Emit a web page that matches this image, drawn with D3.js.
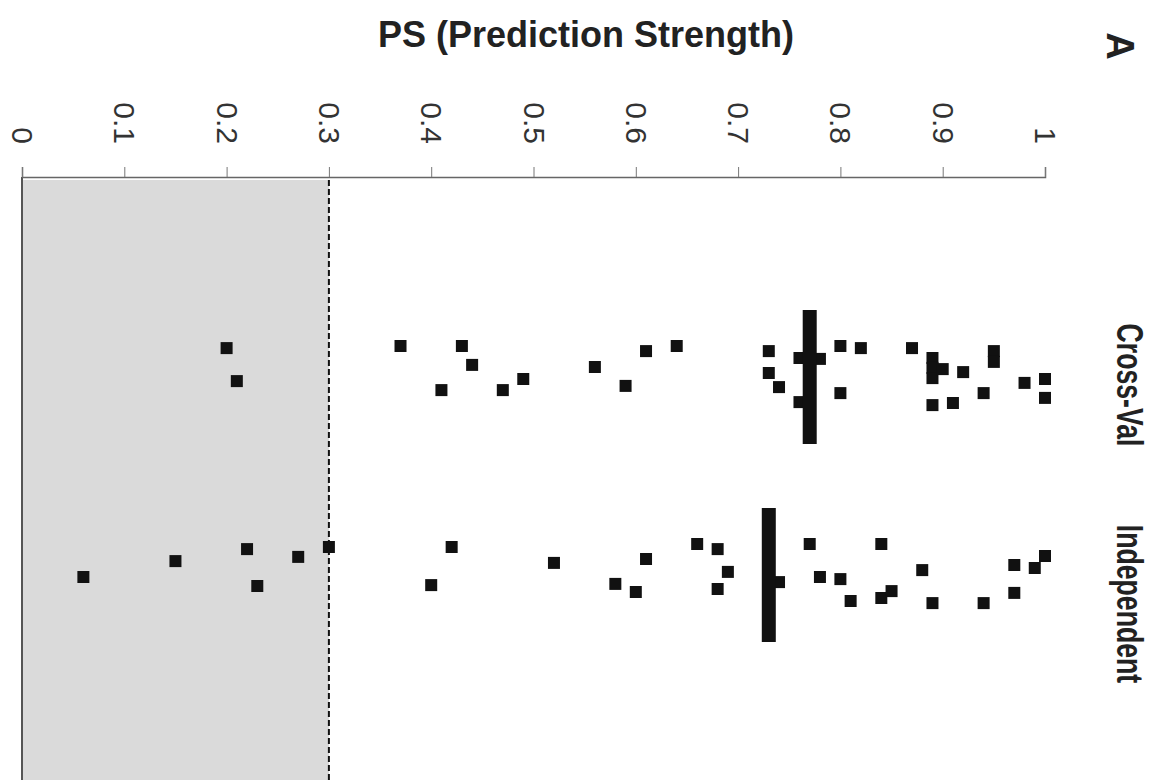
<!DOCTYPE html>
<html>
<head>
<meta charset="utf-8">
<script src="https://cdn.jsdelivr.net/npm/d3@7"></script>
<style>
  body { margin: 0; background: #fff; }
  text { font-family: "Liberation Sans", Arial, sans-serif; }
</style>
</head>
<body>
<script>
// groups shown on the (rotated) category axis
var categories = ['Cross-Val', 'Independent']

// prediction strength of each sample
var crossValPS = [0.20, 0.21, 0.37, 0.43, 0.44, 0.41, 0.47, 0.49, 0.56, 0.59, 0.61, 0.64,
                  0.73, 0.73, 0.74, 0.76, 0.78, 0.76, 0.80, 0.82, 0.80, 0.87, 0.89, 0.89,
                  0.89, 0.90, 0.92, 0.95, 0.95, 0.89, 0.91, 0.94, 0.98, 1.00, 1.00]
// scatter of each dot across its column (-1 .. 1)
var crossValJitter = [-0.93, 0.17, -1.0, -1.0, -0.37, 0.47, 0.47, 0.1, -0.3, 0.33, -0.83, -1.0,
                      -0.83, -0.1, 0.37, -0.6, -0.57, 0.87, -1.0, -0.93, 0.57, -0.93, -0.6, -0.27,
                      0.07, -0.23, -0.13, -0.83, -0.47, 0.97, 0.9, 0.57, 0.23, 0.1, 0.73]

var independentPS = [0.06, 0.15, 0.22, 0.23, 0.27, 0.30, 0.40, 0.42, 0.52, 0.58, 0.60, 0.61,
                     0.66, 0.68, 0.69, 0.68, 0.73, 0.73, 0.74, 0.77, 0.78, 0.80, 0.81, 0.84,
                     0.84, 0.85, 0.88, 0.89, 0.94, 0.97, 0.97, 0.99, 1.00]
var independentJitter = [0.1, -0.43, -0.83, 0.4, -0.57, -0.9, 0.37, -0.9, -0.37, 0.33, 0.6, -0.5,
                         -1.0, -0.83, -0.07, 0.5, -0.9, -0.13, 0.27, -1.0, 0.1, 0.17, 0.9, -1.0,
                         0.8, 0.57, -0.13, 0.97, 0.97, -0.3, 0.63, -0.2, -0.6]

var groupMeans = [0.77, 0.73]
var threshold = 0.3
var tickValues = [0, 0.1, 0.2, 0.3, 0.4, 0.5, 0.6, 0.7, 0.8, 0.9, 1]

var width = 1163, height = 780
var axisY = 177

var svg = d3.select('body')
    .append('svg')
    .attr('width', width)
    .attr('height', height)

var x = d3.scaleLinear()
    .domain([0, 1])
    .range([22, 1045])

var y = d3.scalePoint()
    .domain(categories)
    .range([376, 574])

// category labels sit a little lower than the dot columns
var yLabel = d3.scalePoint()
    .domain(categories)
    .range([385, 604])

var jitter = d3.scaleLinear()
    .domain([-1, 1])
    .range([-30, 30])

// grey zone below the threshold
svg.append('rect')
    .attr('x', x(0))
    .attr('y', axisY + 3)
    .attr('width', x(threshold) - x(0))
    .attr('height', height - axisY - 3)
    .attr('fill', '#dadada')

svg.append('line')
    .attr('x1', x(threshold)).attr('x2', x(threshold))
    .attr('y1', axisY + 3).attr('y2', height)
    .attr('stroke', '#111')
    .attr('stroke-width', 2)
    .attr('stroke-dasharray', '6,3')

svg.append('line')
    .attr('x1', x(0)).attr('x2', x(0))
    .attr('y1', axisY).attr('y2', height)
    .attr('stroke', '#555')
    .attr('stroke-width', 2)

var axis = svg.append('g')
    .attr('transform', 'translate(0,' + axisY + ')')
    .call(d3.axisTop(x)
        .tickValues(tickValues)
        .tickSize(10)
        .tickSizeOuter(10)
        .tickFormat(function (d) { return String(d) }))

axis.select('.domain').attr('stroke', '#666').attr('stroke-width', 1.5)
axis.selectAll('.tick line').attr('stroke', '#777')
axis.selectAll('.tick text')
    .attr('transform', 'rotate(90)')
    .attr('x', -33)
    .attr('y', 0)
    .attr('dy', '0.35em')
    .attr('text-anchor', 'end')
    .attr('fill', '#333')
    .style('font-size', '30px')

var groups = [
    { name: categories[0], ps: crossValPS, jit: crossValJitter, mean: groupMeans[0] },
    { name: categories[1], ps: independentPS, jit: independentJitter, mean: groupMeans[1] }
]

var size = 12

groups.forEach(function (g) {
    var pts = g.ps.map(function (v, i) { return { v: v, j: g.jit[i] } })

    svg.append('g')
        .selectAll('rect')
        .data(pts)
        .enter().append('rect')
        .attr('x', function (d) { return x(d.v) - size / 2 })
        .attr('y', function (d) { return y(g.name) + jitter(d.j) - size / 2 })
        .attr('width', size)
        .attr('height', size)
        .attr('fill', '#111')

    // mean bar
    svg.append('rect')
        .attr('x', x(g.mean) - 7)
        .attr('y', y(g.name) - 66)
        .attr('width', 14)
        .attr('height', 134)
        .attr('fill', '#111')

    var lbl = svg.append('text')
        .attr('transform', 'translate(1130,' + yLabel(g.name) + ') rotate(90)')
        .attr('text-anchor', 'middle')
        .attr('dy', '0.35em')
        .attr('font-size', 36)
        .attr('font-weight', 'bold')
        .attr('fill', '#222')
        .text(g.name)
    // the original face is narrower than Liberation Sans
    var len = lbl.node().getComputedTextLength()
    lbl.attr('textLength', len * 0.74).attr('lengthAdjust', 'spacingAndGlyphs')
})

svg.append('text')
    .attr('x', 586)
    .attr('y', 47)
    .attr('text-anchor', 'middle')
    .attr('font-size', 36)
    .attr('font-weight', 'bold')
    .attr('fill', '#222')
    .text('PS (Prediction Strength)')

svg.append('text')
    .attr('transform', 'translate(1120,46) rotate(90)')
    .attr('text-anchor', 'middle')
    .attr('dy', '0.35em')
    .attr('font-size', 38)
    .attr('font-weight', 'bold')
    .attr('fill', '#222')
    .text('A')
</script>
</body>
</html>
